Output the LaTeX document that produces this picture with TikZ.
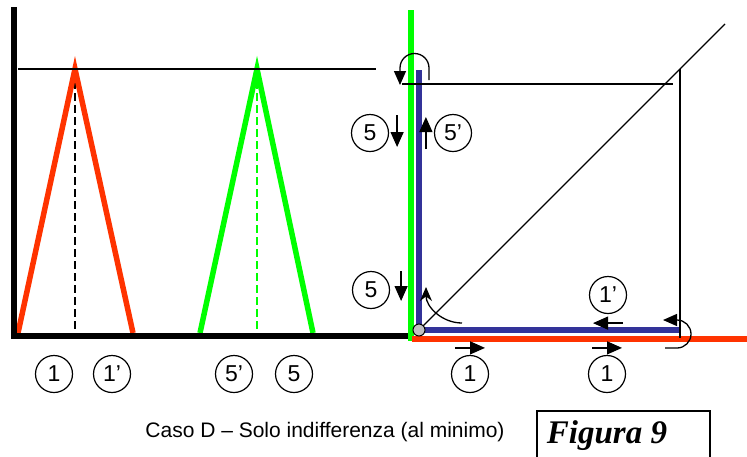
\documentclass[tikz,border=0pt]{standalone}
\usepackage{fontspec}
\setmainfont{Liberation Sans}
\newfontfamily\figfont{Liberation Serif}
\usetikzlibrary{arrows.meta}
\definecolor{rosso}{HTML}{FF3300}
\definecolor{verde}{HTML}{00FF00}
\definecolor{blu}{HTML}{333399}
\definecolor{grigio}{HTML}{C0C0C0}

\begin{document}
\begin{tikzpicture}[x=1pt,y=-1pt]
				% Stili
				\tikzstyle{asse}=[line width=6.5pt]
				\tikzstyle{lato}=[line width=5.5pt]
				\tikzstyle{sottile}=[line width=1.3pt]
				\tikzstyle{tratteggio}=[line width=1.1pt,dash pattern=on 8pt off 4pt]
				\tikzstyle{etichetta}=[draw,circle,line width=1.2pt,minimum size=37pt,inner sep=0pt,font=\fontsize{23}{25}\selectfont]
				\tikzstyle{freccia}=[line width=1.3pt,-{Triangle[length=15pt,width=13pt]}]
				\tikzstyle{giro}=[line width=1.3pt,-{Triangle[length=14pt,width=12pt]}]
				% Dimensioni
				\def\Base{336}
				\def\Cima{69}
				\useasboundingbox (0,0) rectangle (747,456);
				% Pannello sinistro
				\coordinate (A0) at (14,10);
				\coordinate (A1) at (14,\Base);
				\coordinate (A2) at (405,\Base+2);
				\coordinate (T0) at (18,\Cima);
				\coordinate (T1) at (376,\Cima);
				\coordinate (Ra) at (18,333);
				\coordinate (Rc) at (75,\Cima);
				\coordinate (Rb) at (133,333);
				\coordinate (Rm) at (75,335);
				\coordinate (Va) at (200,333);
				\coordinate (Vc) at (257,\Cima);
				\coordinate (Vb) at (313,333);
				\coordinate (Vm) at (257,335);
				%
				\draw[tratteggio] (Rc)--(Rm);
				\draw[tratteggio,verde] (Vc)--(Vm);
				\draw[lato,rosso] (Ra)--(Rc)--(Rb);
				\draw[lato,verde] (Va)--(Vc)--(Vb);
				\draw[sottile] (T0)--(T1);
				\draw[asse,line cap=rect] (A0)--(A1) -- (A1 -| A2);
				%
				\node[etichetta] (E1) at (54,374) {1};
				\node[etichetta] (E1p) at (112,374) {1’};
				\node[etichetta] (E5p) at (234,374) {5’};
				\node[etichetta] (E5) at (294,374) {5};
				% Pannello destro
				\coordinate (G0) at (411,10);
				\coordinate (G1) at (411,341);
				\coordinate (H0) at (412,339);
				\coordinate (H1) at (747,339);
				\coordinate (B0) at (419,70);
				\coordinate (O) at (419,330);
				\coordinate (B1) at (679,330);
				\coordinate (D1) at (725,24);
				\coordinate (L0) at (402,84);
				\coordinate (L1) at (673,84);
				\coordinate (P0) at (680,69);
				\coordinate (P1) at (680,338);
				%
				\draw[asse,verde] (G0)--(G1);
				\draw[asse,rosso] (H0)--(H1);
				\draw[lato,blu] (B0)--(O)--(B1);
				\draw[sottile] (O)--(D1);
				\draw[sottile] (L0)--(L1);
				\draw[sottile] (P0)--(P1);
				\node[draw,circle,fill=grigio,line width=1pt,minimum size=12pt,inner sep=0pt] (Og) at (O) {};
				%
				\node[etichetta] (F5a) at (370,133) {5};
				\node[etichetta] (F5pa) at (453,133) {5’};
				\node[etichetta] (F5b) at (371,290) {5};
				\node[etichetta] (F1p) at (608,295) {1’};
				\node[etichetta] (F1a) at (470,374) {1};
				\node[etichetta] (F1b) at (607,374) {1};
				% Frecce
				\draw[freccia] (F5a.east) ++(8,-18) coordinate (s1) -- ++(0,32);
				\draw[freccia] (F5pa.west) ++(-8,16) coordinate (s2) -- ++(0,-32);
				\draw[freccia] (F5b.east) ++(11,-19) coordinate (s3) -- ++(0,30);
				\draw[freccia] (F1p.south) ++(15,9) coordinate (s4) -- ++(-30,0);
				\draw[freccia] (F1a.north) ++(-15,-7) coordinate (s5) -- ++(30,0);
				\draw[freccia] (F1b.north) ++(-15,-7) coordinate (s6) -- ++(30,0);
				% Giri
				\draw[giro] (429,80) -- (429,68) arc (0:-180:14.5) -- (400,85);
				\draw[giro] (665,348) -- (677,348) arc (90:-90:14) -- (663,320);
				\draw[line width=1.3pt,-{Stealth[length=14pt,width=12pt]}] (462,323) arc (90:180:36);
				% Didascalia
				\node[font=\fontsize{21}{24}\selectfont] (cap) at (325,432) {Caso D – Solo indifferenza (al minimo)};
				\draw[sottile] (537,460) |- (710,411) -- (710,460);
				\node[font=\figfont\bfseries\itshape\fontsize{33}{36}\selectfont] (fig) at (607,436) {Figura 9};
\end{tikzpicture}
\end{document}
